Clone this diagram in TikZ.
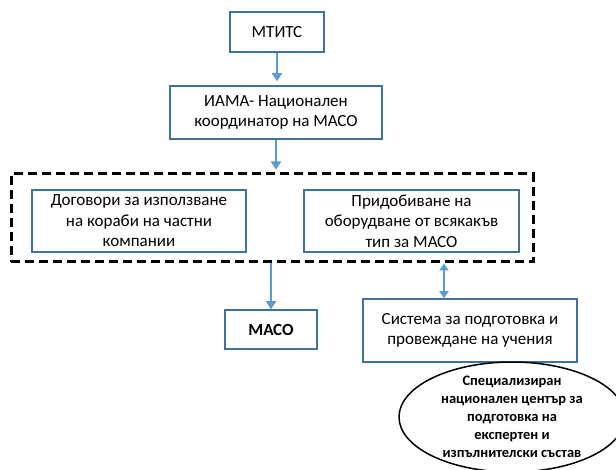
\documentclass[tikz,border=0pt]{standalone}
\usepackage{fontspec}
\setmainfont{Carlito}
\setsansfont{Carlito}
\usetikzlibrary{arrows.meta,positioning,shapes.geometric}
\definecolor{boxblue}{HTML}{41719C}
\definecolor{arrowblue}{HTML}{5B9BD5}
\tikzset{
  unit/.style={rectangle,draw=boxblue,fill=white,line width=1.5pt,align=center,inner sep=0pt,font=\fontsize{17}{20.5}\selectfont,text=black},
  group/.style={rectangle,draw=black,dash pattern=on 9pt off 5pt,line width=3pt,inner sep=0pt},
  link/.style={-{Triangle[length=8pt,width=10pt]},draw=arrowblue,line width=2.2pt},
  biarrow/.style={{Triangle[length=7pt,width=9pt]}-{Triangle[length=7pt,width=9pt]},draw=arrowblue,line width=2.2pt},
  centre/.style={ellipse,draw=black,fill=white,line width=1.5pt,inner sep=0pt},
  centretext/.style={align=center,font=\bfseries\fontsize{14.5}{18}\selectfont,text=black},
}

\begin{document}
\begin{tikzpicture}[x=1pt,y=-1pt,font=\sffamily]
  \useasboundingbox (0,0) rectangle (616,470);
  \node[unit,minimum width=94pt,minimum height=40pt] (mtits) at (277,32) {МТИТС};
  \node[unit,minimum width=212pt,minimum height=53pt] (iama) at (276,112.5) {ИАМА- Национален\\координатор на МАСО};
  \node[group,minimum width=522pt,minimum height=88pt] (tasks) at (272,218) {};
  \node[unit,minimum width=214pt,minimum height=62pt] (ships) at (139,221) {Договори за използване\\на кораби на частни\\компании};
  \node[unit,minimum width=215pt,minimum height=62pt] (equip) at (411.5,221) {Придобиване на\\оборудване от всякакъв\\тип за МАСО};
  \node[unit,minimum width=92pt,minimum height=39pt,font=\bfseries\fontsize{17}{20.5}\selectfont] (maso) at (271,329.5) {МАСО};
  \node[unit,minimum width=214pt,minimum height=63pt] (drills) at (470,330.5) {Система за подготовка и\\провеждане на учения};
  \node[centre,minimum width=226pt,minimum height=110pt] (centre) at (512,417) {};
  \node[centretext] (centrelabel) at (centre) {Специализиран\\национален център за\\подготовка на\\експертен и\\изпълнителски състав};
  \draw[link,shorten >=4pt] (mtits.south) -- (mtits.south |- iama.north);
  \draw[link,shorten >=3pt] (iama.south) -- (iama.south |- tasks.north);
  \draw[link] (tasks.south -| maso) -- (maso.north);
  \draw[biarrow] ([xshift=-26pt]drills.north |- tasks.south) -- ([xshift=-26pt]drills.north);
\end{tikzpicture}
\end{document}
